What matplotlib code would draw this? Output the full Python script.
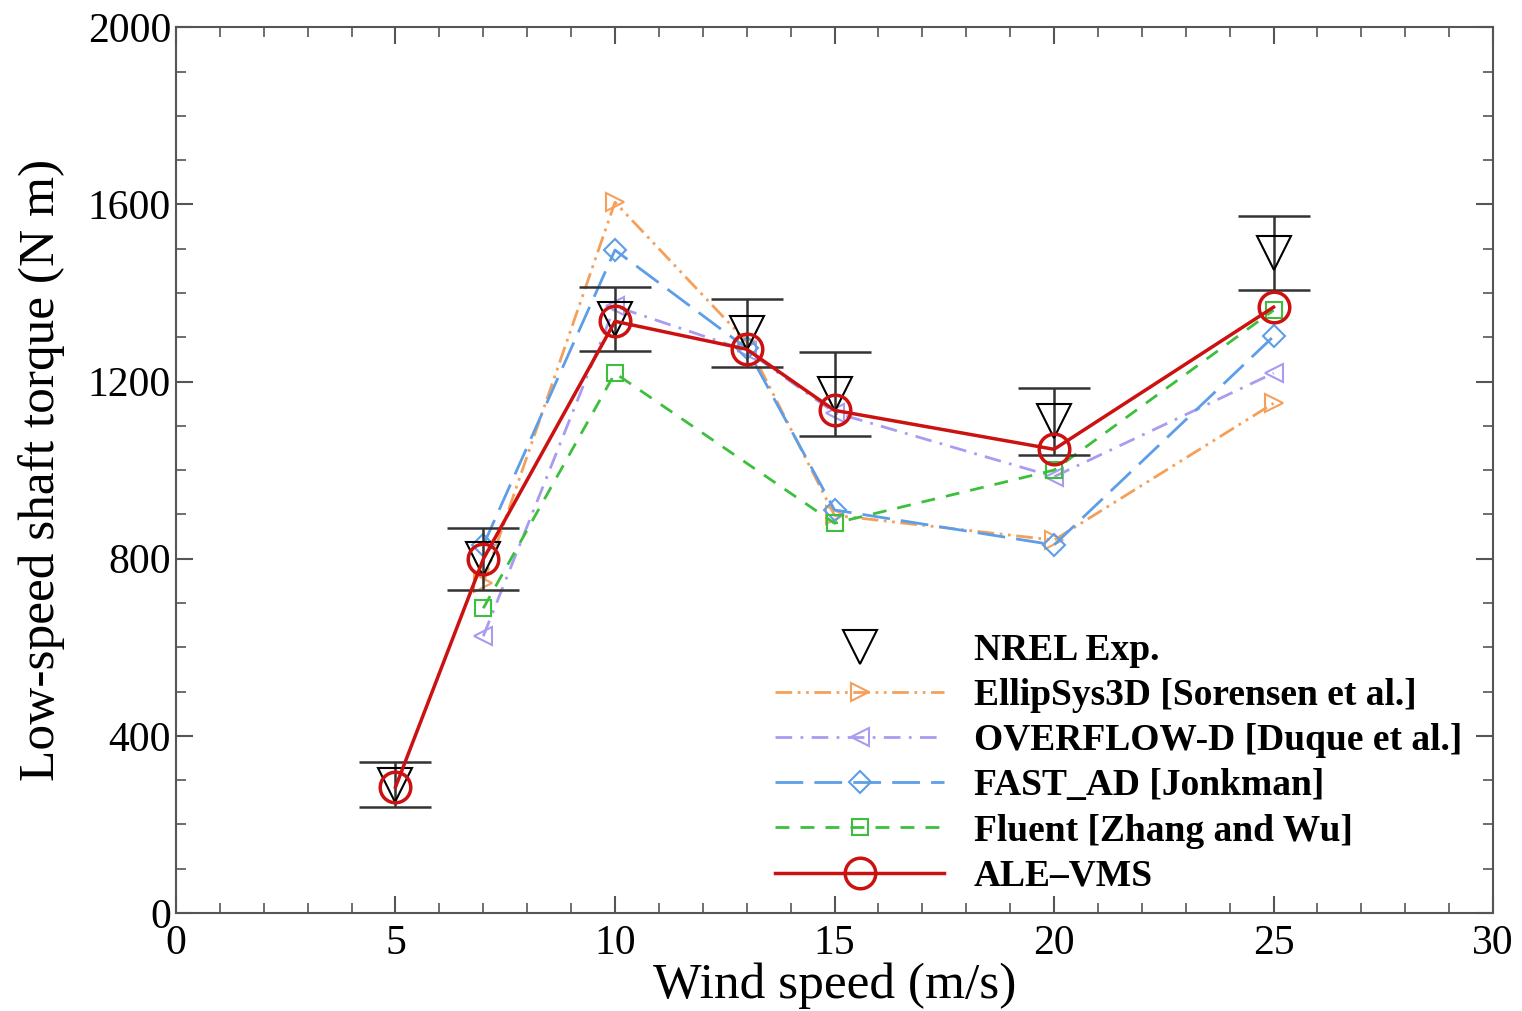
import matplotlib.pyplot as plt
from matplotlib.ticker import MultipleLocator

plt.rcParams['font.family'] = ['Liberation Serif', 'DejaVu Serif']
plt.rcParams['mathtext.fontset'] = 'stix'

# wind speeds (m/s)
ws_exp = [5, 7, 10, 13, 15, 20, 25]
nrel = [290, 800, 1341, 1309, 1172, 1110, 1490]
nrel_err = [50, 70, 72, 77, 95, 75, 83]

ws_ell = [7, 10, 13, 15, 20, 25]
ellipsys = [745, 1605, 1290, 898, 842, 1151]

ws_ovf = [7, 10, 13, 15, 20, 25]
overflow = [625, 1370, 1270, 1130, 985, 1219]

ws_fast = [7, 10, 13, 15, 20, 25]
fast_ad = [830, 1497, 1275, 910, 831, 1302]

ws_flu = [7, 10, 15, 20, 25]
fluent = [688, 1219, 880, 1000, 1361]

ws_ale = [5, 7, 10, 13, 15, 20, 25]
ale_vms = [284, 799, 1336, 1273, 1135, 1047, 1368]

fig = plt.figure(figsize=(15.22, 10.11), dpi=100)
ax = fig.add_axes([0.1156, 0.097, 0.8654, 0.876])

ax.errorbar(ws_exp, nrel, yerr=nrel_err, fmt='none', ecolor='#333333',
            elinewidth=1.8, capsize=26, capthick=1.8, zorder=3)
ax.plot(ws_exp, nrel, linestyle='none', marker='v', markersize=24,
        markerfacecolor='none', markeredgecolor='black', markeredgewidth=1.5,
        label='NREL Exp.', zorder=4)

ax.plot(ws_ell, ellipsys, color='#f5a05a', lw=2, ls=(0, (6, 2, 1, 2, 1, 2)),
        marker='>', markersize=13, markerfacecolor='none', markeredgewidth=1.5,
        label='EllipSys3D [Sorensen et al.]', zorder=2)
ax.plot(ws_ovf, overflow, color='#a89cf0', lw=2, ls=(0, (6, 3, 1, 3)),
        marker='<', markersize=13, markerfacecolor='none', markeredgewidth=1.5,
        label='OVERFLOW-D [Duque et al.]', zorder=2)
ax.plot(ws_fast, fast_ad, color='#5c9ee8', lw=2, ls=(0, (10, 4)),
        marker='D', markersize=11, markerfacecolor='none', markeredgewidth=1.5,
        label='FAST_AD [Jonkman]', zorder=2)
ax.plot(ws_flu, fluent, color='#3cbf3c', lw=2, ls=(0, (5, 4)),
        marker='s', markersize=11, markerfacecolor='none', markeredgewidth=1.5,
        label='Fluent [Zhang and Wu]', zorder=2)
ax.plot(ws_ale, ale_vms, color='#cc1111', lw=2.5, ls='-',
        marker='o', markersize=22, markerfacecolor='none', markeredgewidth=2.5,
        label='ALE\u2013VMS', zorder=5)

ax.set_xlim(0, 30)
ax.set_ylim(0, 2000)
ax.xaxis.set_major_locator(MultipleLocator(5))
ax.xaxis.set_minor_locator(MultipleLocator(1))
ax.yaxis.set_major_locator(MultipleLocator(400))
ax.yaxis.set_minor_locator(MultipleLocator(100))
ax.tick_params(which='both', direction='in', top=True, right=True,
               labelsize=30, color='#555555')
ax.tick_params(axis='x', pad=8)
ax.tick_params(which='major', length=12, width=1.5)
ax.tick_params(which='minor', length=7, width=1.2)
for sp in ax.spines.values():
    sp.set_color('#555555')
    sp.set_linewidth(1.5)

ax.set_xlabel('Wind speed (m/s)', fontsize=37, labelpad=0)
ax.set_ylabel('Low-speed shaft torque (N m)', fontsize=37, labelpad=16)

ax.legend(loc='upper left', bbox_to_anchor=(0.455, 0.316), frameon=False,
          prop={'weight': 'bold', 'size': 27}, handlelength=4.5,
          handletextpad=0.8, labelspacing=0.27, borderpad=0, borderaxespad=0)

fig.savefig('out.png', dpi=100)
